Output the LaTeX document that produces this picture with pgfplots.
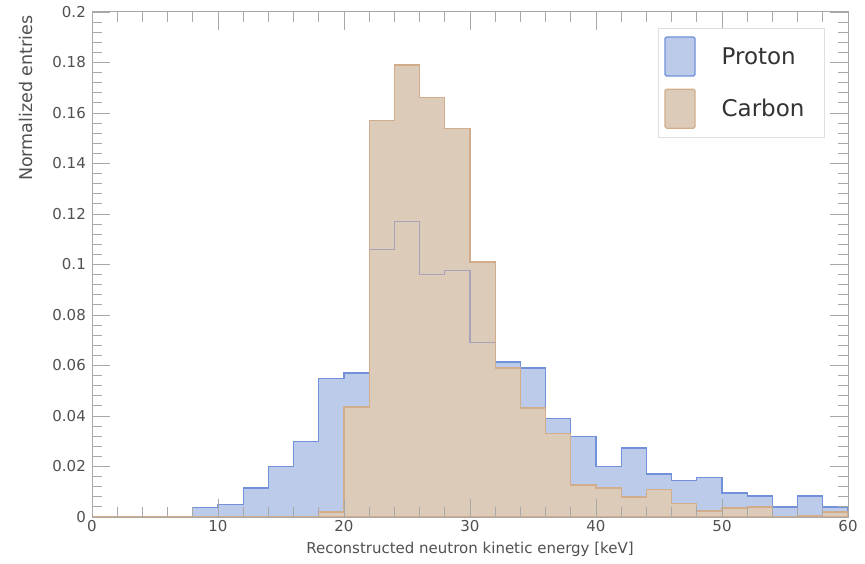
\documentclass[border=0pt]{standalone}
\usepackage{pgfplots}
\pgfplotsset{compat=1.18}
\usepackage{fontspec}
\setmainfont{DejaVu Sans}
\definecolor{pfill}{HTML}{BDCBEA}
\definecolor{pline}{HTML}{7391DA}
\definecolor{cfill}{HTML}{DDCBB9}
\definecolor{cline}{HTML}{D2AD8C}
\definecolor{ovl}{HTML}{A8A3B8}
\definecolor{txt}{HTML}{505050}
\definecolor{ax}{HTML}{A8A8A8}
\begin{document}
\begin{tikzpicture}[x=1pt,y=1pt]
\path[use as bounding box] (0,0) rectangle (865,563);
\begin{axis}[
  at={(92pt,46pt)}, anchor=south west,
  width=756pt, height=505pt, scale only axis,
  xmin=0, xmax=60, ymin=0, ymax=0.2,
  xtick={0,10,20,30,40,50,60},
  ytick={0,0.02,0.04,0.06,0.08,0.1,0.12,0.14,0.16,0.18,0.2},
  yticklabels={0,0.02,0.04,0.06,0.08,0.1,0.12,0.14,0.16,0.18,0.2},
  minor tick num=4,
  tick align=inside,
  major tick length=18pt, minor tick length=10pt,
  axis line style={ax, line width=1pt},
  every tick/.style={ax, line width=0.9pt},
  scaled y ticks=false,
  /pgf/number format/assume math mode=true,
  tick label style={font=\fontsize{15}{17}\selectfont, color=txt},
  xticklabel style={yshift=0pt},
  yticklabel style={anchor=east, align=right, text width=40pt, inner xsep=0pt, xshift=-6pt},
  xlabel={Reconstructed neutron kinetic energy [keV]},
  ylabel={Normalized entries},
  xlabel style={font=\fontsize{15}{17}\selectfont, color=txt, at={(axis description cs:0.5,-0.065)}, anchor=center},
  ylabel style={font=\fontsize{17.5}{19}\selectfont, color=txt, at={(axis description cs:-0.0873,1)}, anchor=east},
  axis on top,
  legend style={at={(rel axis cs:0.749,0.968)}, anchor=north west,
    draw=gray!25, fill=white, font=\fontsize{23}{26}\selectfont, text=black!80,
    inner xsep=6pt, inner ysep=8pt, row sep=12pt,
    nodes={inner xsep=14pt}},
  legend cell align=left,
  legend image code/.code={\draw[#1, rounded corners=1.5pt] (0pt,-19.5pt) rectangle (30pt,19.5pt); \path (42pt,0pt);},
]
\addplot[const plot, fill=pfill, draw=pline, line width=1.2pt] table {
x y
0 0
2 0
4 0
6 0
8 0.0038
10 0.005
12 0.0115
14 0.020
16 0.030
18 0.055
20 0.057
22 0.106
24 0.117
26 0.096
28 0.0975
30 0.069
32 0.0614
34 0.059
36 0.039
38 0.032
40 0.020
42 0.0273
44 0.017
46 0.0143
48 0.0158
50 0.0095
52 0.0083
54 0.004
56 0.0083
58 0.004
60 0.004
} \closedcycle;
\addlegendentry{Proton}
\addplot[const plot, fill=cfill, draw=cline, line width=1.2pt] table {
x y
0 0
2 0
4 0
6 0
8 0
10 0
12 0
14 0
16 0
18 0.002
20 0.0436
22 0.157
24 0.179
26 0.166
28 0.154
30 0.101
32 0.059
34 0.0432
36 0.033
38 0.0127
40 0.0115
42 0.0079
44 0.011
46 0.0055
48 0.0024
50 0.0036
52 0.004
54 0.0
56 0.0004
58 0.002
60 0.002
} \closedcycle;
\addlegendentry{Carbon}
\addplot[const plot, draw=ovl, line width=1.2pt, forget plot] table {
x y
22 0.106
24 0.117
26 0.096
28 0.0975
30 0.069
32 0.069
};
\end{axis}
\end{tikzpicture}
\end{document}
